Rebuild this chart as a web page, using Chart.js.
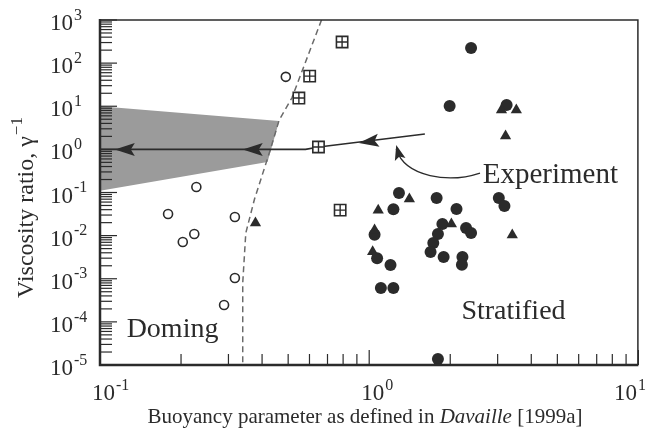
<!DOCTYPE html>
<html>
<head>
<meta charset="utf-8">
<script src="https://cdn.jsdelivr.net/npm/chart.js@4.4.1/dist/chart.umd.min.js"></script>
<style>
  body { margin: 0; background: #fff; }
  #wrap { width: 648px; height: 429px; }
</style>
</head>
<body>
<div id="wrap"><canvas id="c" width="648" height="429"></canvas></div>
<script>
// --- data ---
const openX = [0.49, 0.228, 0.179, 0.203, 0.224, 0.317, 0.317, 0.289];
const openY = [48, 0.134, 0.0317, 0.0071, 0.0109, 0.027, 0.00104, 0.000246];

const filledX = [2.39, 1.99, 3.24, 1.29, 1.78, 3.03, 3.18, 2.11, 1.23, 1.047, 1.07, 1.20, 1.105, 1.23,
                 1.87, 2.29, 2.39, 1.80, 1.73, 1.69, 1.89, 2.22, 2.21, 1.80];
const filledY = [224, 10.1, 10.7, 0.097, 0.0745, 0.0745, 0.0487, 0.0414, 0.041, 0.0105, 0.0030, 0.00208, 0.00061, 0.00061,
                 0.0186, 0.0150, 0.0115, 0.0109, 0.00675, 0.00417, 0.00319, 0.0032, 0.0021, 1.38e-5];

const triX = [0.378, 1.08, 1.41, 1.047, 1.03, 2.02, 3.40, 3.10, 3.52, 3.21];
const triY = [0.0196, 0.039, 0.0707, 0.0135, 0.0042, 0.0186, 0.0103, 8.2, 8.2, 2.04];

const boxX = [0.793, 0.601, 0.548, 0.648, 0.78];
const boxY = [309, 50, 15.5, 1.135, 0.039];

// regime boundary (dashed)
const boundX = [0.665, 0.516, 0.463, 0.429, 0.375, 0.348, 0.339, 0.339];
const boundY = [1000, 15.5, 4.8, 0.967, 0.0707, 0.0115, 0.0008, 1e-5];

// shaded wedge
const shadeX = [0.1, 0.463, 0.419, 0.1];
const shadeY = [10, 4.55, 0.51, 0.11];

// experiment path
const expX = [1.61, 0.65, 0.58, 0.1];
const expY = [2.27, 1.135, 1.0, 1.0];

// arrow heads along the path: tip and a point behind it
const arrowTipX = [0.915, 0.339, 0.1135];
const arrowTipY = [1.41, 1.0, 1.0];
const arrowFromX = [1.61, 0.58, 0.58];
const arrowFromY = [2.27, 1.0, 1.0];

// axis decades
const xDecades = [-1, 0, 1];
const yDecades = [-5, -4, -3, -2, -1, 0, 1, 2, 3];

const INK = '#2b2b2b';
const SERIF = '"Liberation Serif", "DejaVu Serif", serif';

function pts(xs, ys) { return xs.map((x, i) => ({ x: x, y: ys[i] })); }

function sup(ctx, base, exp, x, y, baseSize, supSize, align) {
    ctx.font = baseSize + 'px ' + SERIF;
    const wb = ctx.measureText(base).width;
    ctx.font = supSize + 'px ' + SERIF;
    const we = ctx.measureText(exp).width;
    let x0 = x;
    if (align === 'center') x0 = x - (wb + we) / 2;
    if (align === 'right') x0 = x - wb - we;
    ctx.textAlign = 'left';
    ctx.textBaseline = 'alphabetic';
    ctx.font = baseSize + 'px ' + SERIF;
    ctx.fillText(base, x0, y);
    ctx.font = supSize + 'px ' + SERIF;
    ctx.fillText(exp, x0 + wb + 1, y - baseSize * 0.45);
    return wb + we;
}

function arrowHead(ctx, tx, ty, fx, fy, len, half) {
    const a = Math.atan2(ty - fy, tx - fx);
    ctx.save();
    ctx.translate(tx, ty);
    ctx.rotate(a);
    ctx.beginPath();
    ctx.moveTo(0, 0);
    ctx.lineTo(-len, -half);
    ctx.lineTo(-len * 0.8, 0);
    ctx.lineTo(-len, half);
    ctx.closePath();
    ctx.fill();
    ctx.restore();
}

const decor = {
    id: 'decor',
    afterDatasetsDraw(chart) {
        const ctx = chart.ctx;
        const xs = chart.scales.x, ys = chart.scales.y;
        const a = chart.chartArea;
        ctx.save();
        ctx.fillStyle = INK;
        ctx.strokeStyle = INK;

        // arrow heads on experiment path
        arrowTipX.forEach((tx, i) => {
            arrowHead(ctx, xs.getPixelForValue(tx), ys.getPixelForValue(arrowTipY[i]),
                xs.getPixelForValue(arrowFromX[i]), ys.getPixelForValue(arrowFromY[i]), 20, 6.5);
        });

        // curved pointer to the experiment path
        const p = (x, y) => [xs.getPixelForValue(x), ys.getPixelForValue(y)];
        const s = p(2.58, 0.283), c1 = p(1.99, 0.165), c2 = p(1.36, 0.22), e = p(1.26, 1.26);
        ctx.lineWidth = 1.3;
        ctx.beginPath();
        ctx.moveTo(s[0], s[1]);
        ctx.bezierCurveTo(c1[0], c1[1], c2[0], c2[1], e[0], e[1] + 4);
        ctx.stroke();
        arrowHead(ctx, e[0], e[1], c2[0], c2[1], 15, 5.5);

        // frame
        ctx.lineWidth = 1.5;
        ctx.beginPath();
        ctx.moveTo(a.left, a.top); ctx.lineTo(a.right - 0.5, a.top); ctx.lineTo(a.right - 0.5, a.bottom);
        ctx.stroke();
        ctx.lineWidth = 2.5;
        ctx.beginPath();
        ctx.moveTo(a.left, a.top - 1); ctx.lineTo(a.left, a.bottom); ctx.lineTo(a.right, a.bottom);
        ctx.stroke();

        // inward ticks
        ctx.lineWidth = 1.2;
        yDecades.forEach(d => {
            for (let k = 1; k <= 9; k++) {
                const v = k * Math.pow(10, d);
                if (v > ys.max * 1.0001) break;
                const py = ys.getPixelForValue(v);
                ctx.beginPath();
                ctx.moveTo(a.left, py); ctx.lineTo(a.left + (k === 1 ? 17 : 12), py);
                ctx.stroke();
            }
        });
        xDecades.forEach(d => {
            for (let k = 1; k <= 9; k++) {
                const v = k * Math.pow(10, d);
                if (v > xs.max * 1.0001) break;
                const px = xs.getPixelForValue(v);
                ctx.beginPath();
                ctx.moveTo(px, a.bottom); ctx.lineTo(px, a.bottom - (k === 1 ? 15 : 11));
                ctx.stroke();
            }
        });

        // tick labels
        ctx.fillStyle = INK;
        yDecades.forEach(d => {
            const py = ys.getPixelForValue(Math.pow(10, d));
            sup(ctx, '10', String(d), 50, py + 10, 23, 16, 'left');
        });
        xDecades.forEach(d => {
            const px = xs.getPixelForValue(Math.pow(10, d));
            if (px > a.right - 5) sup(ctx, '10', String(d), 645, 400, 23, 16, 'right');
            else sup(ctx, '10', String(d), px - 8, 400, 23, 16, 'left');
        });

        // axis titles
        ctx.font = '21px ' + SERIF;
        ctx.textBaseline = 'alphabetic';
        const t1 = 'Buoyancy parameter as defined in ', t2 = 'Davaille', t3 = ' [1999a]';
        const w1 = ctx.measureText(t1).width, w3 = ctx.measureText(t3).width;
        ctx.font = 'italic 21px ' + SERIF;
        const w2 = ctx.measureText(t2).width;
        let x0 = 365 - (w1 + w2 + w3) / 2;
        ctx.textAlign = 'left';
        ctx.font = '21px ' + SERIF; ctx.fillText(t1, x0, 423);
        ctx.font = 'italic 21px ' + SERIF; ctx.fillText(t2, x0 + w1, 423);
        ctx.font = '21px ' + SERIF; ctx.fillText(t3, x0 + w1 + w2, 423);

        ctx.save();
        ctx.translate(33, 208);
        ctx.rotate(-Math.PI / 2);
        ctx.font = '24px ' + SERIF;
        const yt = 'Viscosity ratio, \u03b3';
        const wy = ctx.measureText(yt).width;
        ctx.font = '17px ' + SERIF;
        const we = ctx.measureText('\u22121').width;
        sup(ctx, yt, '\u22121', -(wy + we) / 2, 0, 24, 17, 'left');
        ctx.restore();

        // region labels
        ctx.font = '28px ' + SERIF;
        ctx.textAlign = 'left';
        ctx.fillText('Doming', xs.getPixelForValue(0.1256), ys.getPixelForValue(4.45e-5));
        ctx.fillText('Stratified', xs.getPixelForValue(2.2), ys.getPixelForValue(1.17e-4));
        ctx.font = '29px ' + SERIF;
        ctx.fillText('Experiment', xs.getPixelForValue(2.64), ys.getPixelForValue(0.166));

        ctx.restore();
    }
};

new Chart(document.getElementById('c'), {
    type: 'scatter',
    data: {
        datasets: [
            { data: pts(shadeX, shadeY), showLine: true, fill: 'shape', backgroundColor: '#9b9b9b',
              borderWidth: 0, pointRadius: 0, order: 10 },
            { data: pts(boundX, boundY), showLine: true, borderColor: '#6a6a6a', borderWidth: 1.5,
              borderDash: [6, 4], pointRadius: 0, order: 6 },
            { data: pts(expX, expY), showLine: true, borderColor: INK, borderWidth: 1.6,
              pointRadius: 0, order: 5 },
            { data: pts(openX, openY), pointStyle: 'circle', pointRadius: 4.5, borderWidth: 1.6,
              borderColor: INK, backgroundColor: '#fff', order: 2 },
            { data: pts(filledX, filledY), pointStyle: 'circle', pointRadius: 6, borderWidth: 0,
              backgroundColor: INK, order: 2 },
            { data: pts(triX, triY), pointStyle: 'triangle', pointRadius: 6.5, borderWidth: 0,
              backgroundColor: INK, order: 1 },
            { data: pts(boxX, boxY), pointStyle: 'rect', pointRadius: 8, borderWidth: 1.6,
              borderColor: INK, backgroundColor: '#fff', order: 1 },
            { data: pts(boxX, boxY), pointStyle: 'cross', pointRadius: 5.5, borderWidth: 1.4,
              borderColor: INK, order: 0 }
        ]
    },
    options: {
        responsive: false,
        animation: false,
        events: [],
        layout: { padding: { top: 20, right: 1, left: 0, bottom: 0 } },
        plugins: { legend: { display: false }, tooltip: { enabled: false } },
        scales: {
            x: {
                type: 'logarithmic', min: 0.1, max: 10,
                grid: { display: false }, border: { display: false },
                ticks: { display: false },
                afterFit: s => { s.height = 64; }
            },
            y: {
                type: 'logarithmic', min: 1e-5, max: 1e3,
                grid: { display: false }, border: { display: false },
                ticks: { display: false },
                afterFit: s => { s.width = 100; }
            }
        }
    },
    plugins: [decor]
});
</script>
</body>
</html>
